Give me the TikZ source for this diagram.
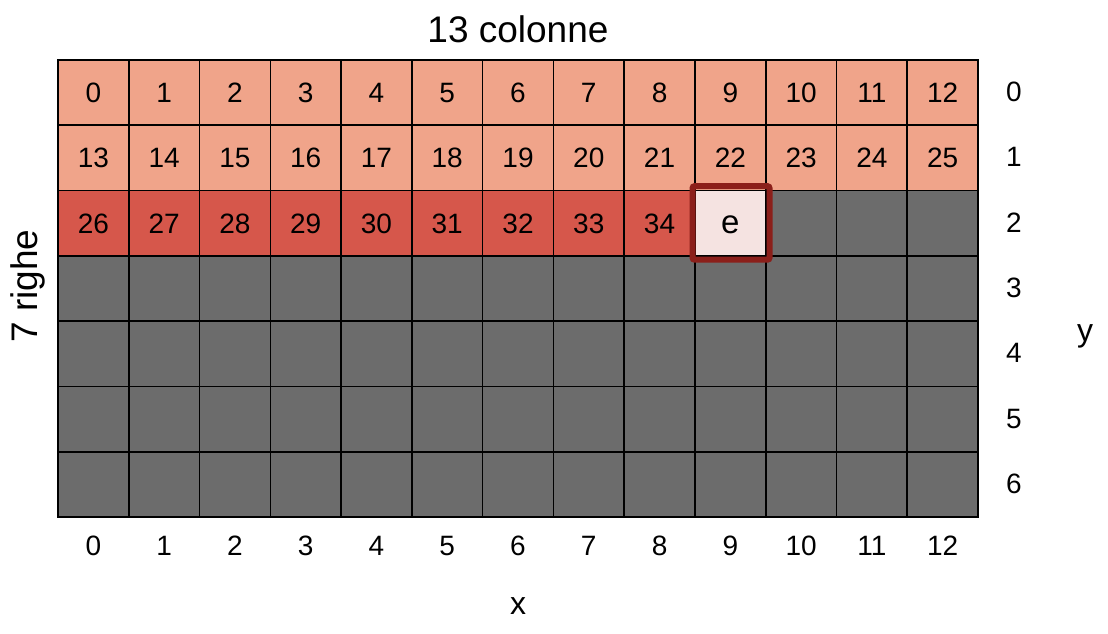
\documentclass[tikz,border=0pt]{standalone}
\usepackage{fontspec}
\setmainfont{Liberation Sans}
\usetikzlibrary{positioning, calc}
\definecolor{rowlight}{RGB}{240, 164, 138}
\definecolor{rowdark}{RGB}{214, 87, 75}
\definecolor{cellgray}{RGB}{108, 108, 108}
\definecolor{ecell}{RGB}{245, 227, 225}
\definecolor{eborder}{RGB}{139, 31, 26}

\begin{document}
\begin{tikzpicture}[x=1pt, y=-1pt,
  cell/.style={draw=black, line width=1.6pt, minimum width=70.77pt, minimum height=65.29pt, inner sep=0pt, text height=20pt, text depth=0pt, font=\fontsize{28}{32}\selectfont},
  lbl/.style={inner sep=0pt, text height=20pt, text depth=0pt, font=\fontsize{28}{32}\selectfont},
  title/.style={inner sep=0pt, font=\fontsize{37}{42}\selectfont},
  axis/.style={inner sep=0pt, font=\fontsize{32}{36}\selectfont}
]
  \useasboundingbox (0,0) rectangle (1108,634);
  % grid of cells
  \foreach \r in {0,...,6}{
    \foreach \c in {0,...,12}{
      \pgfmathtruncatemacro{\idx}{\r*13+\c}
      \ifnum\r<2
        \node[cell, fill=rowlight] (c-\c-\r) at ({58+(\c+0.5)*70.77},{60+(\r+0.5)*65.29}) {\idx};
      \else\ifnum\idx<35
        \node[cell, fill=rowdark] (c-\c-\r) at ({58+(\c+0.5)*70.77},{60+(\r+0.5)*65.29}) {\idx};
      \else
        \node[cell, fill=cellgray] (c-\c-\r) at ({58+(\c+0.5)*70.77},{60+(\r+0.5)*65.29}) {};
      \fi\fi
    }
  }
  % current element
  \node[cell, fill=ecell, font=\fontsize{33}{36}\selectfont] (e) at (c-9-2) {e};
  \draw[eborder, line width=6pt, rounded corners=2pt]
    ([xshift=-1.6pt, yshift=3.6pt]e.north west) rectangle ([xshift=3pt, yshift=-3pt]e.south east);
  % indices
  \foreach \c in {0,...,12}
    \node[lbl] (xl-\c) at ({58+(\c+0.5)*70.77}, 545) {\c};
  \foreach \r in {0,...,6}
    \node[lbl] (yl-\r) at (1014, {59+(\r+0.5)*65.29}) {\r};
  % titles
  \node[title] (cols) at (518, 29) {13 colonne};
  \node[title, rotate=90] (rows) at (28, 286) {7 righe};
  \node[axis] (xaxis) at (518, 606) {x};
  \node[axis] (yaxis) at (1085, 336) {y};
\end{tikzpicture}
\end{document}
